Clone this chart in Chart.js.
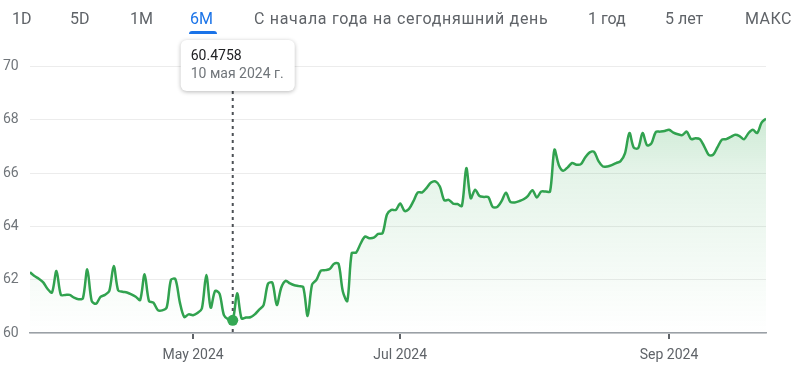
<!DOCTYPE html>
<html>
<head>
<meta charset="utf-8">
<script src="https://cdn.jsdelivr.net/npm/chart.js@4"></script>
<style>
  body { margin: 0; background: #fff; font-family: Roboto, Arial, sans-serif; }
  #wrap { position: relative; width: 800px; height: 375px; overflow: hidden; }
  #chart { position: absolute; left: 0; top: 0; }
  .tab { position: absolute; top: 8px; line-height: 22px; font-size: 16px; color: #5f6368; white-space: nowrap; }
  .tab.on { color: #1a73e8; }
  .bar { position: absolute; left: 189px; top: 31px; width: 28px; height: 3px; background: #1a73e8; border-radius: 3px 3px 0 0; }
</style>
</head>
<body>
<div id="wrap">
  <canvas id="chart" width="800" height="375"></canvas>
  <span class="tab" style="left:12px">1D</span>
  <span class="tab" style="left:70px">5D</span>
  <span class="tab" style="left:130px">1M</span>
  <span class="tab on" style="left:190px">6M</span>
  <div class="bar"></div>
  <span class="tab" style="left:254px; letter-spacing:0.7px">С начала года на сегодняшний день</span>
  <span class="tab" style="left:588px">1 год</span>
  <span class="tab" style="left:665px">5 лет</span>
  <span class="tab" style="left:745px; letter-spacing:0.5px">МАКС</span>
</div>
<script>
// closing prices, one per trading session
const prices = [
  62.28, 62.14, 62.04, 61.90, 61.65, 61.52, 62.33, 61.43, 61.43, 61.43,
  61.33, 61.27, 61.30, 62.39, 61.20, 61.10, 61.36, 61.43, 61.58, 62.52,
  61.60, 61.55, 61.52, 61.45, 61.36, 61.24, 62.21, 61.20, 61.14, 60.86,
  60.85, 60.95, 62.00, 62.02, 61.15, 60.60, 60.70, 60.67, 60.75, 60.92,
  62.18, 60.95, 61.58, 61.48, 60.67, 60.51, 60.4758, 61.49, 60.55, 60.58,
  60.59, 60.70, 60.88, 61.05, 61.85, 61.89, 61.05, 61.70, 61.96, 61.86,
  61.79, 61.76, 61.72, 60.64, 61.82, 62.00, 62.34, 62.36, 62.40, 62.60,
  62.60, 61.55, 61.20, 63.00, 63.02, 63.35, 63.62, 63.56, 63.58, 63.72,
  63.75, 64.45, 64.62, 64.62, 64.86, 64.58, 64.66, 64.95, 65.28, 65.28,
  65.45, 65.65, 65.69, 65.50, 64.98, 65.00, 64.86, 64.84, 64.77, 66.19,
  65.06, 65.38, 65.14, 65.11, 65.10, 64.73, 64.73, 64.95, 65.27, 64.92,
  64.90, 64.95, 65.02, 65.15, 65.36, 65.09, 65.31, 65.31, 65.31, 66.88,
  66.30, 66.09, 66.22, 66.38, 66.32, 66.34, 66.60, 66.78, 66.80, 66.45,
  66.25, 66.25, 66.30, 66.38, 66.45, 66.74, 67.51, 66.96, 66.94, 67.51,
  67.05, 67.12, 67.55, 67.56, 67.58, 67.63, 67.52, 67.46, 67.43, 67.56,
  67.28, 67.31, 67.28, 67.00, 66.69, 66.69, 66.98, 67.26, 67.28, 67.36,
  67.44, 67.39, 67.27, 67.50, 67.63, 67.51, 67.90, 68.05
];

const xTickIndex = [37, 84, 145];
const xTickLabels = ['May 2024', 'Jul 2024', 'Sep 2024'];
const yTicks = [60, 62, 64, 66, 68, 70];

const hoverIndex = 46;
const hoverValue = '60.4758';
const hoverDate = '10 мая 2024 г.';

const green = '#31a24f';

const hoverPlugin = {
  id: 'hover',
  afterDatasetsDraw(chart) {
    const ctx = chart.ctx;
    const pt = chart.getDatasetMeta(0).data[hoverIndex];
    const area = chart.chartArea;
    const boxL = pt.x - 52, boxT = 40, boxW = 114, boxH = 51;

    // dotted guide
    ctx.save();
    ctx.strokeStyle = '#4d5156';
    ctx.lineWidth = 2;
    ctx.setLineDash([3, 4]);
    ctx.beginPath();
    ctx.moveTo(pt.x, boxT + boxH);
    ctx.lineTo(pt.x, area.bottom);
    ctx.stroke();
    ctx.restore();

    // point
    ctx.save();
    ctx.fillStyle = '#34a853';
    ctx.beginPath();
    ctx.arc(pt.x, pt.y, 5.5, 0, Math.PI * 2);
    ctx.fill();
    ctx.restore();

    // card
    ctx.save();
    ctx.shadowColor = 'rgba(0,0,0,0.28)';
    ctx.shadowBlur = 4;
    ctx.shadowOffsetY = 1;
    ctx.fillStyle = '#fff';
    ctx.beginPath();
    ctx.roundRect(boxL, boxT, boxW, boxH, 6);
    ctx.fill();
    ctx.restore();

    ctx.save();
    ctx.textBaseline = 'alphabetic';
    ctx.fillStyle = '#202124';
    ctx.font = '14px Roboto, Arial, sans-serif';
    ctx.fillText(hoverValue, boxL + 10, boxT + 20);
    ctx.fillStyle = '#70757a';
    ctx.fillText(hoverDate, boxL + 10, boxT + 38);
    ctx.restore();
  }
};

new Chart(document.getElementById('chart'), {
  type: 'line',
  data: {
    datasets: [{
      data: prices.map((v, i) => ({x: i, y: v})),
      borderColor: green,
      borderWidth: 2.5,
      tension: 0.3,
      pointRadius: 0,
      fill: 'start',
      backgroundColor: (c) => {
        const a = c.chart.chartArea;
        if (!a) return 'rgba(52,168,83,0.2)';
        const g = c.chart.ctx.createLinearGradient(0, a.top, 0, a.bottom);
        g.addColorStop(0, 'rgba(52,168,83,0.4)');
        g.addColorStop(0.45, 'rgba(52,168,83,0.13)');
        g.addColorStop(1, 'rgba(52,168,83,0)');
        return g;
      }
    }]
  },
  options: {
    responsive: false,
    animation: false,
    layout: { padding: { top: 40, right: 34, left: 3, bottom: 0 } },
    plugins: { legend: { display: false }, tooltip: { enabled: false } },
    scales: {
      x: {
        type: 'linear',
        min: 0,
        max: prices.length - 1,
        afterBuildTicks: (s) => { s.ticks = xTickIndex.map(v => ({value: v})); },
        afterFit: (s) => { s.height = 42; },
        ticks: {
          color: '#5f6368',
          padding: 8,
          font: { family: 'Roboto, Arial, sans-serif', size: 14 },
          callback: (v) => xTickLabels[xTickIndex.indexOf(v)]
        },
        grid: { drawOnChartArea: false, tickLength: 6, color: '#5f6368', lineWidth: 2 },
        border: { color: '#9aa0a6', width: 1.5 }
      },
      y: {
        min: 60,
        max: 71,
        afterBuildTicks: (s) => { s.ticks = yTicks.map(v => ({value: v})); },
        afterFit: (s) => { s.width = 27; },
        ticks: {
          color: '#70757a',
          crossAlign: 'far',
          font: { family: 'Roboto, Arial, sans-serif', size: 14 }
        },
        grid: { drawTicks: false, color: '#ececec' },
        border: { display: false }
      }
    }
  },
  plugins: [hoverPlugin]
});
</script>
</body>
</html>
